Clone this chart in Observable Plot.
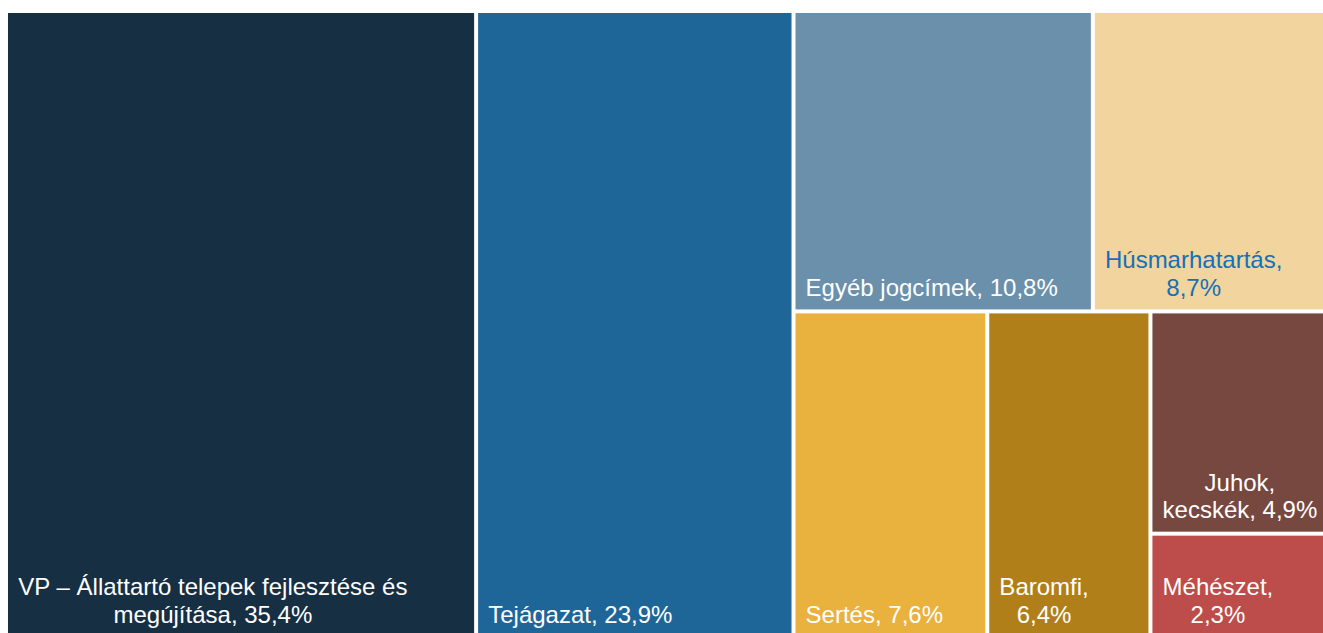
<!DOCTYPE html>
<html><head><meta charset="utf-8">
<script src="https://cdn.jsdelivr.net/npm/d3@7"></script>
<script src="https://cdn.jsdelivr.net/npm/@observablehq/plot@0.6"></script>
<style>
html,body{margin:0;padding:0;background:#fff;overflow:hidden}
#chart{width:1323px;height:633px;overflow:hidden;position:relative}
#chart svg{display:block;max-width:none !important;height:640px !important}
</style></head><body><div id="chart"></div>
<script>
const categories = ["VP – Állattartó telepek fejlesztése és megújítása", "Tejágazat", "Egyéb jogcímek", "Húsmarhatartás", "Sertés", "Baromfi", "Juhok, kecskék", "Méhészet"];
const shares = [35.4, 23.9, 10.8, 8.7, 7.6, 6.4, 4.9, 2.3];
const labels = ["VP – Állattartó telepek fejlesztése és\nmegújítása, 35,4%", "Tejágazat, 23,9%", "Egyéb jogcímek, 10,8%", "Húsmarhatartás,\n8,7%", "Sertés, 7,6%", "Baromfi,\n6,4%", "Juhok,\nkecskék, 4,9%", "Méhészet,\n2,3%"];
const fills = ["#172f43", "#1f6698", "#6a90ab", "#f2d49e", "#e9b13d", "#b07f1a", "#764840", "#bd4d4b"];
const textColors = ["#ffffff", "#ffffff", "#ffffff", "#1570b6", "#ffffff", "#ffffff", "#ffffff", "#ffffff"];

const W = 1324, H = 623;
const FONT = "'Liberation Sans', Arial, sans-serif";
const FS = 24, PADX = 9.6, PADB = 14;

const root = d3.hierarchy({children: categories.map((c, i) => ({i}))})
  .sum(d => d.i === undefined ? 0 : shares[d.i]);
d3.treemap().size([W, H]).paddingInner(4).tile(d3.treemapSquarify.ratio(1))(root);

const ctx = document.createElement("canvas").getContext("2d");
ctx.font = `${FS}px ${FONT}`;
const rows = root.leaves().map(n => {
  const i = n.data.i;
  const lines = labels[i].split("\n");
  const bw = Math.max(...lines.map(l => ctx.measureText(l).width));
  return {x0: n.x0, x1: n.x1, y0: n.y0, y1: n.y1, fill: fills[i], label: labels[i], tcolor: textColors[i],
          tx: n.x0 + PADX + bw / 2, ty: n.y1 - PADB};
});

const chart = Plot.plot({
  width: 1340, height: 640,
  marginLeft: 8, marginTop: 13, marginRight: 8, marginBottom: 4,
  x: {domain: [0, W], range: [8, 8 + W], axis: null},
  y: {domain: [0, H], range: [13, 13 + H], axis: null},
  color: {type: "identity"},
  style: {fontFamily: FONT, background: "white", overflow: "hidden", maxWidth: "none"},
  marks: [
    Plot.rect(rows, {x1: "x0", x2: "x1", y1: "y0", y2: "y1", fill: "fill"}),
    Plot.text(rows, {x: "tx", y: "ty", text: "label", fill: "tcolor", fontSize: FS, lineHeight: 1.15,
                     textAnchor: "middle", lineAnchor: "bottom"})
  ]
});
document.getElementById("chart").appendChild(chart);
</script></body></html>
